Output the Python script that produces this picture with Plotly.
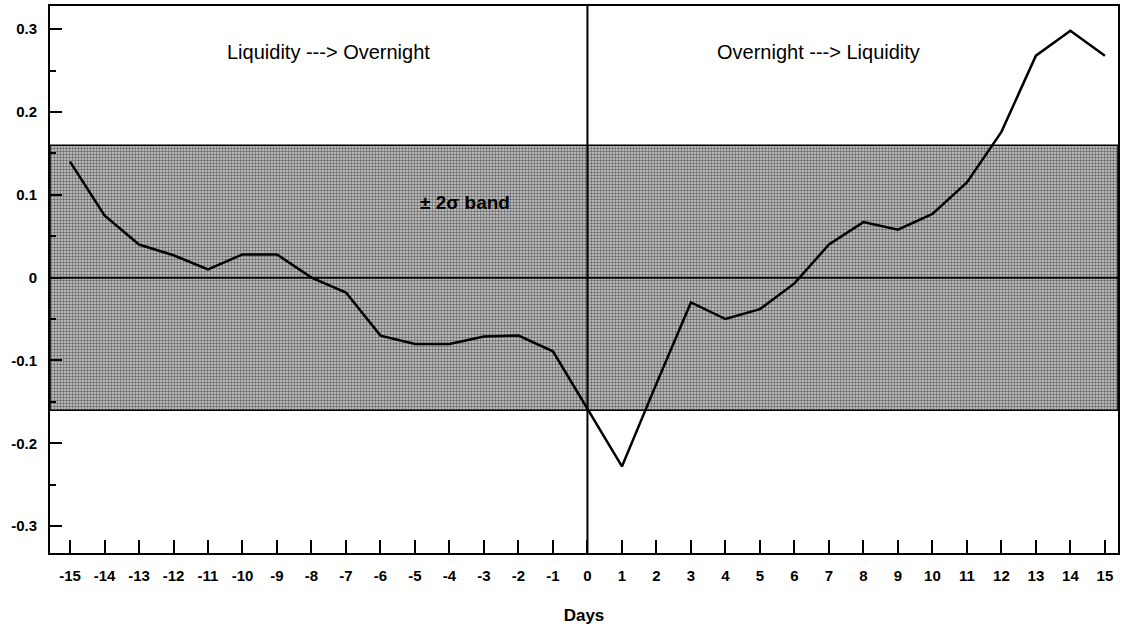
import plotly.graph_objects as go

days = list(range(-15, 16))
values = [0.14, 0.075, 0.04, 0.027, 0.01, 0.028, 0.028, 0.0, -0.018, -0.07,
          -0.08, -0.08, -0.071, -0.07, -0.089, -0.158, -0.228, -0.128, -0.03, -0.05,
          -0.038, -0.007, 0.04, 0.067, 0.058, 0.077, 0.115, 0.176, 0.268, 0.298, 0.268]
band = 0.16
x_range = [-15.58, 15.38]
y_range = [-0.3325, 0.328]
y_ticks = [0.3, 0.2, 0.1, 0, -0.1, -0.2, -0.3]
y_ticklabels = ["0.3", "0.2", "0.1", "0", "-0.1", "-0.2", "-0.3"]

fig = go.Figure()

# +/- 2 sigma band
fig.add_trace(go.Scatter(
    x=[x_range[0], x_range[1], x_range[1], x_range[0], x_range[0]],
    y=[band, band, -band, -band, band],
    fill="toself", mode="lines",
    line=dict(color="black", width=1.5),
    fillcolor="rgba(0,0,0,0)",
    fillpattern=dict(shape=".", fgcolor="#000000", bgcolor="#d0d0d0", size=3, solidity=0.5),
    hoverinfo="skip", showlegend=False,
))

fig.add_trace(go.Scatter(
    x=days, y=values, mode="lines",
    line=dict(color="black", width=2.5),
    showlegend=False,
))

# zero line and vertical line at day 0
fig.add_shape(type="line", xref="x domain", yref="y", x0=0, x1=1, y0=0, y1=0,
              line=dict(color="black", width=2))
fig.add_shape(type="line", xref="x", yref="y domain", x0=0, x1=0, y0=0, y1=1,
              line=dict(color="black", width=2))

fig.add_annotation(x=-7.5, y=0.273, text="Liquidity ---> Overnight", showarrow=False,
                   font=dict(family="Arial, Liberation Sans", size=20, color="black"))
fig.add_annotation(x=6.7, y=0.273, text="Overnight ---> Liquidity", showarrow=False,
                   font=dict(family="Arial, Liberation Sans", size=20, color="black"))
fig.add_annotation(x=-3.55, y=0.091, text="<b>± 2σ band</b>", showarrow=False,
                   font=dict(family="Arial, Liberation Sans", size=19, color="black"))

fig.update_layout(
    width=1124, height=630,
    margin=dict(l=50, r=4, t=5, b=77),
    paper_bgcolor="white", plot_bgcolor="white",
    font=dict(family="Arial, Liberation Sans", color="black"),
)

fig.update_xaxes(
    range=x_range, tickmode="array", tickvals=days,
    ticktext=[f"<b>{d}</b>" for d in days],
    ticks="inside", ticklen=13, tickwidth=2, tickcolor="black",
    tickfont=dict(size=15, color="black"), ticklabelstandoff=8,
    showline=True, linecolor="black", linewidth=2, mirror=True,
    showgrid=False, zeroline=False,
    title=dict(text="<b>Days</b>", font=dict(size=17, color="black"), standoff=26),
)
fig.update_yaxes(
    range=y_range, tickmode="array", tickvals=y_ticks,
    ticktext=[f"<b>{t}</b>" for t in y_ticklabels],
    ticks="inside", ticklen=12, tickwidth=2, tickcolor="black",
    tickfont=dict(size=15, color="black"), ticklabelstandoff=8,
    minor=dict(tickvals=[0.25, 0.15, 0.05, -0.05, -0.15, -0.25], ticks="inside",
               ticklen=6, tickwidth=1.5, tickcolor="black"),
    showline=True, linecolor="black", linewidth=2, mirror=True,
    showgrid=False, zeroline=False,
)

fig.write_html("out.html")
